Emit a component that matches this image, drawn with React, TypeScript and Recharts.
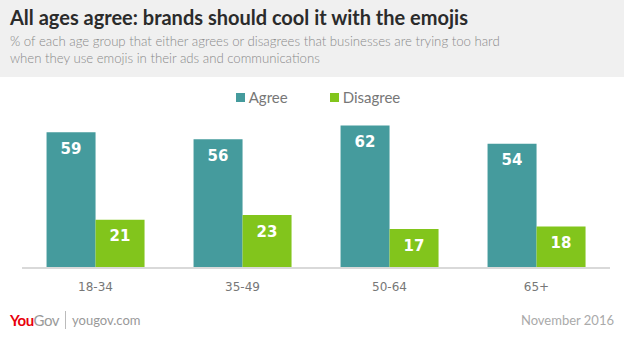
import { Bar, BarChart, LabelList, XAxis, YAxis } from "recharts";

const ageGroups = ["18-34", "35-49", "50-64", "65+"];
const agree = [59, 56, 62, 54];
const disagree = [21, 23, 17, 18];

const AGREE = "#459b9d";
const DISAGREE = "#82c51c";

const data = ageGroups.map((group, i) => ({
  group,
  agree: agree[i],
  disagree: disagree[i]
}));

function LegendBox() {
  const items = [
    { label: "Agree", color: AGREE },
    { label: "Disagree", color: DISAGREE }
  ];
  return (
    <div style={{ display: "flex", justifyContent: "center", gap: 42, fontSize: 15, color: "#777" }}>
      {items.map((it) => (
        <span key={it.label} style={{ display: "flex", alignItems: "center" }}>
          <span style={{ width: 9, height: 9, background: it.color, marginRight: 4, display: "inline-block" }} />
          {it.label}
        </span>
      ))}
    </div>
  );
}

export default function App() {
  return (
    <div
      style={{
        position: "absolute",
        left: 0,
        top: 0,
        width: 624,
        height: 342,
        background: "#fff",
        fontFamily: "Lato, 'Open Sans', sans-serif",
        overflow: "hidden"
      }}
    >
      <div style={{ position: "absolute", left: 0, top: 0, width: 624, height: 77, background: "#f0f0f0" }} />
      <div style={{ position: "absolute", left: 10, top: 5, fontSize: 20, fontWeight: 700, color: "#2b2b2b" }}>
        All ages agree: brands should cool it with the emojis
      </div>
      <div
        style={{
          position: "absolute",
          left: 10,
          top: 33,
          width: 600,
          fontSize: 13.2,
          fontWeight: 300,
          lineHeight: "17px",
          color: "#8a8a8a"
        }}
      >
        % of each age group that either agrees or disagrees that businesses are trying too hard
        <br />
        when they use emojis in their ads and communications
      </div>

      <div style={{ position: "absolute", left: 0, top: 0 }}>
        <BarChart
          width={624}
          height={342}
          data={data}
          margin={{ top: 107, right: 14, bottom: 44, left: 22 }}
          barCategoryGap="16.7%"
          barGap={0}
        >
          <XAxis
            dataKey="group"
            height={30}
            tickLine={false}
            stroke="#d9d9d9"
            strokeWidth={2}
            tick={{ fill: "#777", fontSize: 12, fontFamily: "'DejaVu Sans', sans-serif" }}
            tickMargin={8}
          />
          <YAxis hide domain={[0, 70]} />
          <Bar dataKey="agree" name="Agree" fill={AGREE} isAnimationActive={false}>
            <LabelList
              dataKey="agree"
              position="insideTop"
              offset={11}
              fill="#fff"
              fontSize={15}
              fontWeight={700}
              fontFamily="'DejaVu Sans', sans-serif"
            />
          </Bar>
          <Bar dataKey="disagree" name="Disagree" fill={DISAGREE} isAnimationActive={false}>
            <LabelList
              dataKey="disagree"
              position="insideTop"
              offset={11}
              fill="#fff"
              fontSize={15}
              fontWeight={700}
              fontFamily="'DejaVu Sans', sans-serif"
            />
          </Bar>
        </BarChart>
      </div>

      <div style={{ position: "absolute", left: 0, top: 88, width: 636 }}>
        <LegendBox />
      </div>

      <div style={{ position: "absolute", left: 10, top: 311, display: "flex", alignItems: "center", fontSize: 13 }}>
        <span style={{ fontWeight: 700, color: "#e8000b", fontSize: 15, letterSpacing: -0.5 }}>You</span>
        <span style={{ color: "#9a9a9a", fontSize: 15, letterSpacing: -0.5 }}>Gov</span>
        <span style={{ display: "inline-block", width: 1, height: 18, background: "#bbb", margin: "0 6px" }} />
        <span style={{ color: "#999" }}>yougov.com</span>
      </div>
      <div style={{ position: "absolute", right: 10, top: 312, fontSize: 13, color: "#aaa" }}>November 2016</div>
    </div>
  );
}
